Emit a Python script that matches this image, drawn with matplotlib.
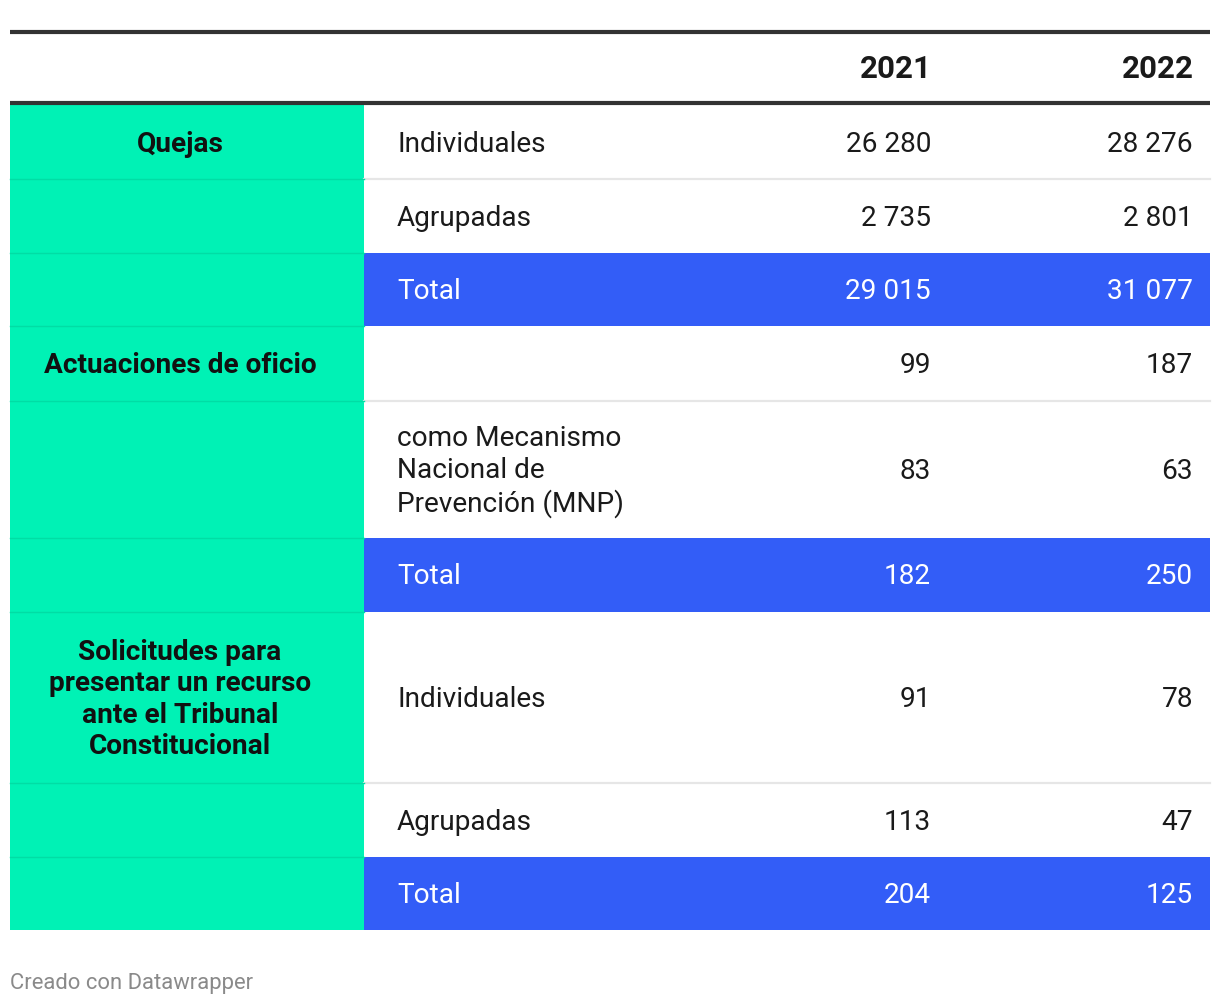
import matplotlib.pyplot as plt
from matplotlib.patches import Rectangle

plt.rcParams['font.family'] = ['Roboto', 'DejaVu Sans']

# Table content
years = ['2021', '2022']
groups = ['Quejas', 'Actuaciones de oficio',
          'Solicitudes para\npresentar un recurso\nante el Tribunal\nConstitucional']
group_rows = [0, 3, 6]
row_labels = ['Individuales', 'Agrupadas', 'Total',
              '', 'como Mecanismo\nNacional de\nPrevención (MNP)', 'Total',
              'Individuales', 'Agrupadas', 'Total']
values_2021 = ['26 280', '2 735', '29 015', '99', '83', '182', '91', '113', '204']
values_2022 = ['28 276', '2 801', '31 077', '187', '63', '250', '78', '47', '125']
is_total = [False, False, True, False, False, True, False, False, True]

# Layout (pixels)
row_edges = [105, 179, 253, 326, 401, 538, 612, 783, 857, 930]
left, right, split = 10, 1210, 364
col_x = [931, 1193]
fs = 20.2

green = '#00F2B5'
blue = '#335DF7'
dark = '#333333'

fig = plt.figure(figsize=(12.2, 10.06), dpi=100)
ax = fig.add_axes([0, 0, 1, 1])
ax.set_xlim(0, 1220)
ax.set_ylim(1006, 0)
ax.axis('off')

# green label column
ax.add_patch(Rectangle((left, row_edges[0]), split - left, row_edges[-1] - row_edges[0],
                       color=green, lw=0))

for i in range(len(row_labels)):
    y0, y1 = row_edges[i], row_edges[i + 1]
    yc = (y0 + y1) / 2 + 2
    if is_total[i]:
        ax.add_patch(Rectangle((split, y0), right - split, y1 - y0, color=blue, lw=0))
        tc = 'white'
    else:
        tc = '#1a1a1a'
    if i > 0 and not is_total[i - 1] and not is_total[i]:
        ax.plot([split, right], [y0, y0], color='#e6e6e6', lw=1.6)
    if i > 0:
        ax.plot([left, split], [y0, y0], color='#00DDA5', lw=1.0)
    ax.text(397, yc, row_labels[i], ha='left', va='center', fontsize=fs,
            color=tc, linespacing=1.22)
    ax.text(col_x[0], yc, values_2021[i], ha='right', va='center', fontsize=fs, color=tc)
    ax.text(col_x[1], yc, values_2022[i], ha='right', va='center', fontsize=fs, color=tc)

for g, r in zip(groups, group_rows):
    y0, y1 = row_edges[r], row_edges[r + 1]
    ax.text(180, (y0 + y1) / 2 + 2, g, ha='center', va='center',
            fontsize=fs, fontweight='bold', color='#111111', linespacing=1.22)

# header
ax.plot([left, right], [32, 32], color=dark, lw=3, solid_capstyle='butt')
ax.plot([left, right], [103, 103], color=dark, lw=3, solid_capstyle='butt')
for x, y in zip(col_x, years):
    ax.text(x + 1, 69, y, ha='right', va='center', fontsize=22.5, fontweight='bold',
            color='#1a1a1a')

ax.text(10, 983, 'Creado con Datawrapper', ha='left', va='center', fontsize=15.8,
        color='#8a8a8a')

plt.savefig('out.png', dpi=100)
plt.close()
